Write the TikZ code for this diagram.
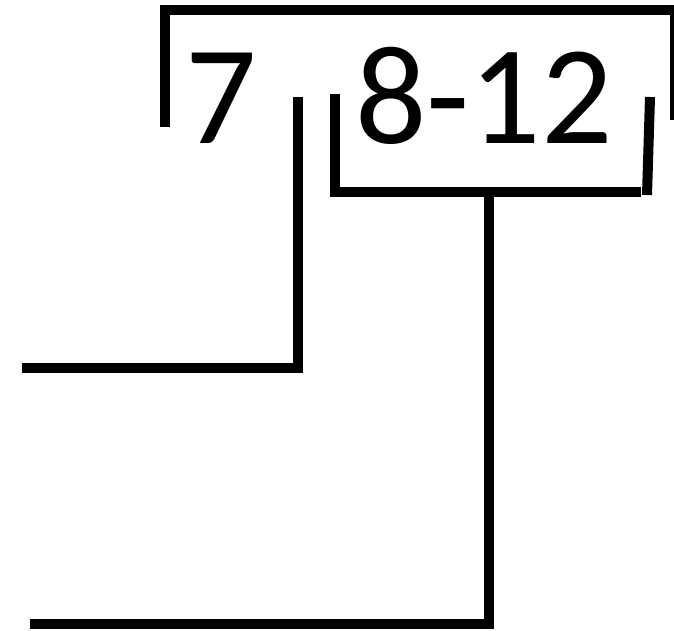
\documentclass[tikz,border=0pt]{standalone}
\usepackage{fontspec}
\setmainfont{Carlito}
\begin{document}
\begin{tikzpicture}[x=1pt,y=-1pt,
  stroke/.style={line width=10pt,line join=miter,line cap=butt},
  label/.style={inner sep=0pt,anchor=base,font=\fontsize{141}{141}\selectfont}]
\useasboundingbox (0,0) rectangle (674,630);
\fill[white] (0,0) rectangle (674,630);
% text
\node[label] (seven) at (221,143) {7};
\node[label] (range) at (484,143) {8-12};
% coordinates
\coordinate (tl) at (165,127);
\coordinate (tlc) at (165,10);
\coordinate (trc) at (675,10);
\coordinate (tr) at (675,120);
\coordinate (il) at (335,94);
\coordinate (ilc) at (335,192);
\coordinate (irc) at (641,192);
\coordinate (irt) at (650,97);
\coordinate (irb) at (647,195);
\coordinate (sa) at (298,97);
\coordinate (sc) at (298,368);
\coordinate (se) at (22,368);
\coordinate (ra) at (489,192);
\coordinate (rc) at (489,624);
\coordinate (re) at (30,624);
% strokes
\draw[stroke] (tl) -- (tlc) -- (trc) -- (tr);
\draw[stroke] (il) -- (ilc) -- (irc);
\draw[stroke] (irt) -- (irb);
\draw[stroke] (sa) -- (sc) -- (se);
\draw[stroke] (ra) -- (rc) -- (re);
\end{tikzpicture}
\end{document}
